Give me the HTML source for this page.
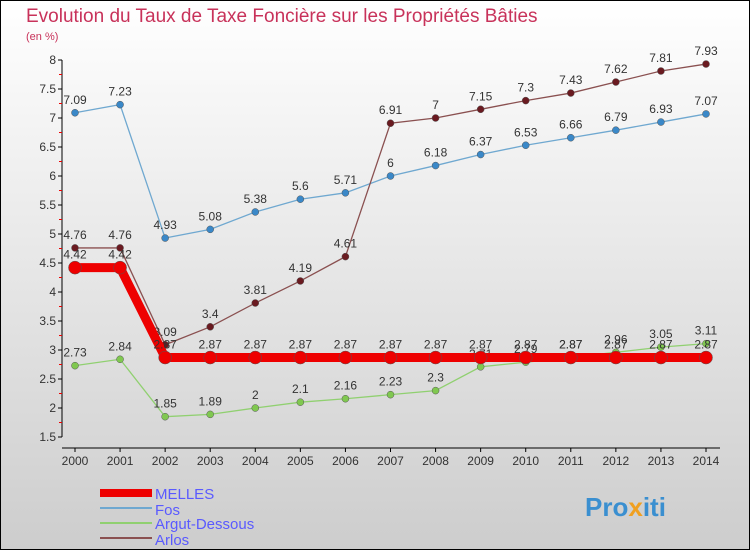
<!DOCTYPE html>
<html><head><meta charset="utf-8"><style>
body{margin:0}
svg{display:block;font-family:"Liberation Sans",sans-serif}
</style></head><body>
<svg id="c" width="750" height="550" xmlns="http://www.w3.org/2000/svg">
<defs><linearGradient id="bg" x1="0" y1="0" x2="0" y2="1"><stop offset="0" stop-color="#ffffff"/><stop offset="1" stop-color="#cdcdcd"/></linearGradient></defs>
<rect x="0.5" y="0.5" width="749" height="549" fill="url(#bg)" stroke="#000"/>
<text x="26" y="22" font-size="19" fill="#c8325a">Evolution du Taux de Taxe Foncière sur les Propriétés Bâties</text>
<text x="26" y="40" font-size="11" fill="#c8325a">(en %)</text>
<g id="axes"></g>
<g id="series"></g>
<g id="legend">
<rect x="100" y="489" width="52" height="8" fill="#e00"/>
<text x="155" y="499" font-size="15" fill="#5a5aff">MELLES</text>
<line x1="100" y1="508" x2="152" y2="508" stroke="#6fa8d0" stroke-width="2"/>
<text x="155" y="515" font-size="15" fill="#5a5aff">Fos</text>
<line x1="100" y1="523" x2="152" y2="523" stroke="#90d070" stroke-width="2"/>
<text x="155" y="529" font-size="15" fill="#5a5aff">Argut-Dessous</text>
<line x1="100" y1="538" x2="152" y2="538" stroke="#8a5050" stroke-width="2"/>
<text x="155" y="545" font-size="15" fill="#5a5aff">Arlos</text>
</g>
<g>
<text x="585" y="516" font-size="26" font-weight="bold" fill="#3a8fd0">Pro<tspan fill="#f0a020">x</tspan><tspan fill="#3a8fd0">iti</tspan></text>
</g>
</svg>
<script>
const years=[2000,2001,2002,2003,2004,2005,2006,2007,2008,2009,2010,2011,2012,2013,2014];
const melles=[4.42,4.42,2.87,2.87,2.87,2.87,2.87,2.87,2.87,2.87,2.87,2.87,2.87,2.87,2.87];
const fos=[7.09,7.23,4.93,5.08,5.38,5.6,5.71,6,6.18,6.37,6.53,6.66,6.79,6.93,7.07];
const argut=[2.73,2.84,1.85,1.89,2,2.1,2.16,2.23,2.3,2.71,2.79,2.87,2.96,3.05,3.11];
const arlos=[4.76,4.76,3.09,3.4,3.81,4.19,4.61,6.91,7,7.15,7.3,7.43,7.62,7.81,7.93];
const yTicks=[1.5,2,2.5,3,3.5,4,4.5,5,5.5,6,6.5,7,7.5,8];
const NS="http://www.w3.org/2000/svg";
const xS=i=>75+i*(706-75)/(years.length-1);
const yS=v=>60+(8-v)*58;
function mk(t,a,p){const e=document.createElementNS(NS,t);for(const k in a)e.setAttribute(k,a[k]);p.appendChild(e);return e;}
const ax=document.getElementById('axes');
const yl=mk('line',{x1:62,y1:yS(8),x2:62,y2:yS(1.5),stroke:'#000'},ax);


const xl=mk('line',{x1:62,y1:448,x2:720,y2:448,stroke:'#000'},ax);


yTicks.forEach(v=>{
  mk('line',{x1:58,y1:yS(v),x2:62,y2:yS(v),stroke:'#000'},ax);
  if(v<8)mk('line',{x1:59,y1:yS(v+0.25),x2:62,y2:yS(v+0.25),stroke:'#e00'},ax);
  const t=mk('text',{x:56,y:yS(v)+4,'font-size':12,fill:'#333','text-anchor':'end'},ax);
  t.textContent=v;
  
  
});
years.forEach((y,i)=>{
  mk('line',{x1:xS(i),y1:448,x2:xS(i),y2:452,stroke:'#000'},ax);
  const t=mk('text',{x:xS(i),y:465,'font-size':12,fill:'#333','text-anchor':'middle'},ax);
  t.textContent=y;
  
  
});
const sg=document.getElementById('series');
function draw(vals,name,color,w,r,dot,lab){
  const g=mk('g',{},sg);
  
  
  const p=mk('polyline',{points:vals.map((v,i)=>xS(i)+','+yS(v)).join(' '),fill:'none',stroke:color,'stroke-width':w},g);
  
  
  vals.forEach((v,i)=>{
    const c=mk('circle',{cx:xS(i),cy:yS(v),r:r,fill:dot,stroke:'#555','stroke-width':0.5},g);
    
    
    const t=mk('text',{x:xS(i),y:yS(v)-9,'font-size':12,fill:'#333','text-anchor':'middle'},g);
    t.textContent=v;
    
    
  });
}
draw(argut,'argut-dessous','#90d070',1.3,3.5,'#80c850');
draw(fos,'fos','#6fa8d0',1.3,3.5,'#3a88c8');
draw(arlos,'arlos','#8a5050',1.3,3.5,'#6a1a20');
draw(melles,'melles','#ee0000',9,6.5,'#ee0000');
</script>
</body></html>
